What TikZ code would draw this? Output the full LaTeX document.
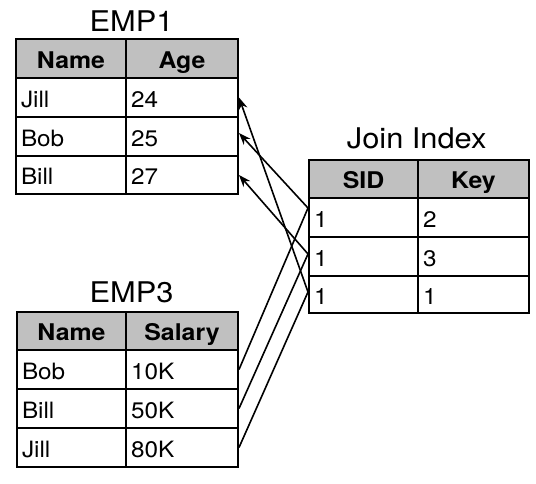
\documentclass[tikz,border=0pt]{standalone}
\usepackage{fontspec}
\setmainfont{TeX Gyre Heros}[FakeStretch=1.08]
\usetikzlibrary{arrows.meta}
\definecolor{hdgray}{RGB}{192,192,192}
\begin{document}
\begin{tikzpicture}[x=1pt,y=-1pt,
  cellbase/.style={draw, line width=2pt, inner ysep=0pt, text height=19.6pt, text depth=0pt},
  hd/.style={cellbase, fill=hdgray, font=\bfseries\fontsize{23}{23}\selectfont, inner xsep=0pt, align=center},
  bd/.style={cellbase, font=\fontsize{22.5}{22.5}\selectfont, inner xsep=5pt, align=left},
  ttl/.style={font=\fontsize{28.5}{28.5}\selectfont, anchor=base, inner sep=0pt},
  link/.style={line width=1.6pt},
  ptr/.style={line width=1.6pt, -{Stealth[length=12pt,width=9pt]}}
]
\fill[white] (0,0) rectangle (536,484);
\useasboundingbox (0,0) rectangle (536,484);

% ---------- EMP1 ----------
\node[ttl] (t1) at (131.5,31.7) {EMP1};
\node[hd, minimum width=110pt, minimum height=39pt] (e1h1) at (71,58.5) {Name};
\node[hd, minimum width=112pt, minimum height=39pt] (e1h2) at (182,58.5) {Age};
\node[bd, text width=100pt, minimum height=39pt] (e1n1) at (71,97.5) {Jill};
\node[bd, text width=102pt, minimum height=39pt] (e1a1) at (182,97.5) {24};
\node[bd, text width=100pt, minimum height=39pt] (e1n2) at (71,136.5) {Bob};
\node[bd, text width=102pt, minimum height=39pt] (e1a2) at (182,136.5) {25};
\node[bd, text width=100pt, minimum height=38pt] (e1n3) at (71,175) {Bill};
\node[bd, text width=102pt, minimum height=38pt] (e1a3) at (182,175) {27};

% ---------- EMP3 ----------
\node[ttl] (t3) at (131.5,302.3) {EMP3};
\node[hd, minimum width=109pt, minimum height=38pt] (e3h1) at (71.5,331) {Name};
\node[hd, minimum width=112pt, minimum height=38pt] (e3h2) at (182,331) {Salary};
\node[bd, text width=99pt, minimum height=39pt] (e3n1) at (71.5,369.5) {Bob};
\node[bd, text width=102pt, minimum height=39pt] (e3s1) at (182,369.5) {10K};
\node[bd, text width=99pt, minimum height=39pt] (e3n2) at (71.5,408.5) {Bill};
\node[bd, text width=102pt, minimum height=39pt] (e3s2) at (182,408.5) {50K};
\node[bd, text width=99pt, minimum height=39pt] (e3n3) at (71.5,447.5) {Jill};
\node[bd, text width=102pt, minimum height=39pt] (e3s3) at (182,447.5) {80K};

% ---------- Join Index ----------
\node[ttl] (tj) at (416.7,148.3) {Join Index};
\node[hd, minimum width=109pt, minimum height=38pt] (jh1) at (363.5,179) {SID};
\node[hd, minimum width=111pt, minimum height=38pt] (jh2) at (473.5,179) {Key};
\node[bd, text width=99pt, minimum height=39pt] (j1) at (363.5,217.5) {1};
\node[bd, text width=101pt, minimum height=39pt] (k1) at (473.5,217.5) {2};
\node[bd, text width=99pt, minimum height=39pt] (j2) at (363.5,256.5) {1};
\node[bd, text width=101pt, minimum height=39pt] (k2) at (473.5,256.5) {3};
\node[bd, text width=99pt, minimum height=37pt] (j3) at (363.5,294.5) {1};
\node[bd, text width=101pt, minimum height=37pt] (k3) at (473.5,294.5) {1};

% ---------- connectors ----------
\coordinate (c1) at ([yshift=9.5pt]j1.west);
\coordinate (c2) at ([yshift=2.5pt]j2.west);
\coordinate (c3) at ([yshift=2.5pt]j3.west);
\coordinate (b2) at ([yshift=3.5pt]e1a2.east);

\draw[link] (e3s1.east) -- (c1);
\draw[link] (e3s2.east) -- (c2);
\draw[link] (e3s3.east) -- (c3);
\draw[ptr] (c1) -- (b2);
\draw[ptr] (c2) -- (e1a3.east);
\draw[ptr] (c3) -- (e1a1.east);
\end{tikzpicture}
\end{document}
